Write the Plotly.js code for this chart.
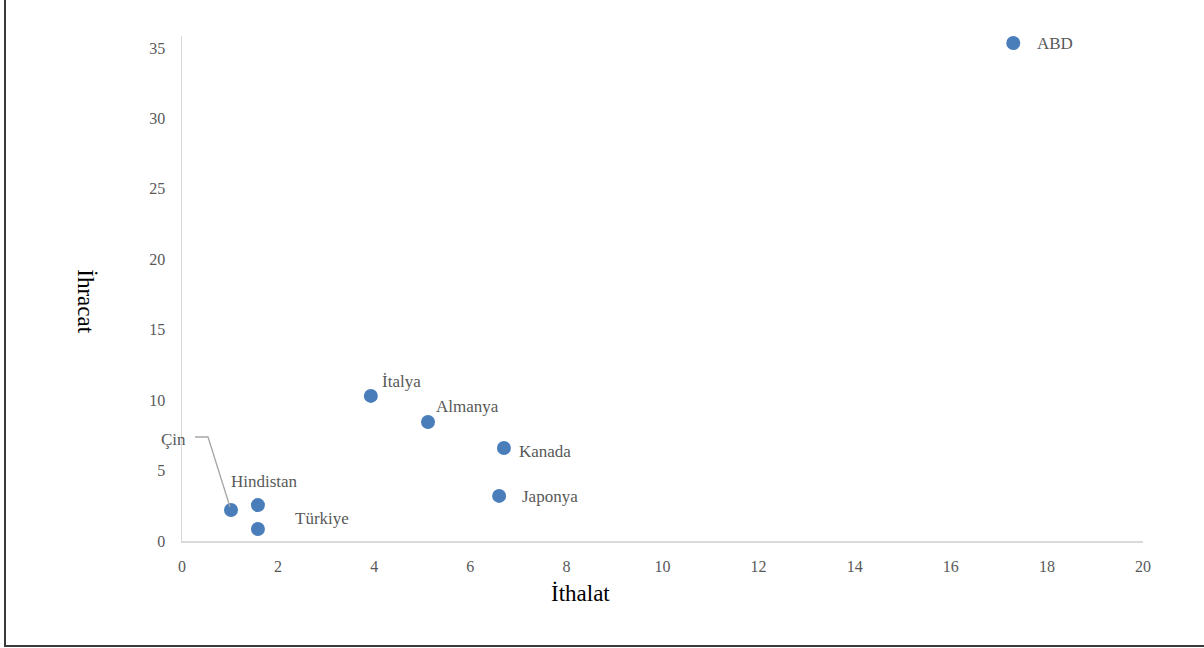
<!DOCTYPE html>
<html>
<head>
<meta charset="utf-8">
<script src="https://cdn.plot.ly/plotly-3.0.1.min.js"></script>
<style>
  html, body { margin: 0; padding: 0; background: #fff; }
  #frame { position: absolute; left: 4px; top: 0; width: 1200px; height: 647px;
           border-left: 2px solid #3a3a3a; border-bottom: 2px solid #3a3a3a; box-sizing: border-box; }
  #chart { position: absolute; left: 0; top: 0; width: 1204px; height: 648px; }
</style>
</head>
<body>
<div id="frame"></div>
<div id="chart"></div>
<script>
// Data
const countries = ["ABD", "İtalya", "Almanya", "Kanada", "Japonya", "Hindistan", "Türkiye", "Çin"];
const ithalat   = [17.3, 3.93, 5.12, 6.70, 6.60, 1.58, 1.58, 1.02];
const ihracat   = [35.35, 10.3, 8.45, 6.6, 3.2, 2.55, 0.85, 2.2];
const xTicks    = [0, 2, 4, 6, 8, 10, 12, 14, 16, 18, 20];
const yTicks    = [0, 5, 10, 15, 20, 25, 30, 35];

// Label placement (pixel offsets from each point)
const labelStyle = {
  "ABD":       {xanchor: "left",  xshift: 22,  yshift: 0},
  "İtalya":    {xanchor: "left",  xshift: 9,   yshift: 14},
  "Almanya":   {xanchor: "left",  xshift: 6,   yshift: 15},
  "Kanada":    {xanchor: "left",  xshift: 13,  yshift: -3},
  "Japonya":   {xanchor: "left",  xshift: 21,  yshift: -1},
  "Hindistan": {xanchor: "left",  xshift: -29, yshift: 24},
  "Türkiye":   {xanchor: "left",  xshift: 35,  yshift: 11},
  "Çin":       {xanchor: "right", xshift: -43, yshift: 71}
};

const serif = "'Liberation Serif', 'Times New Roman', serif";
const grey = "#595959";

const annotations = countries.map((c, i) => ({
  x: ithalat[i], y: ihracat[i], xref: "x", yref: "y",
  text: c, showarrow: false,
  xanchor: labelStyle[c].xanchor, yanchor: "middle",
  xshift: labelStyle[c].xshift, yshift: labelStyle[c].yshift,
  font: {family: serif, size: 17, color: grey}
}));

annotations.push({
  xref: "paper", yref: "paper", x: 0.415, y: -0.103, text: "İthalat",
  showarrow: false, xanchor: "center", yanchor: "middle",
  font: {family: serif, size: 23, color: "#000"}
});
annotations.push({
  xref: "paper", yref: "paper", x: -0.1, y: 0.475, text: "İhracat",
  showarrow: false, textangle: 90, xanchor: "center", yanchor: "middle",
  font: {family: serif, size: 23, color: "#000"}
});

const cinIdx = countries.indexOf("Çin");
const shapes = [{
  type: "path", xref: "x", yref: "y",
  xsizemode: "pixel", ysizemode: "pixel",
  xanchor: ithalat[cinIdx], yanchor: ihracat[cinIdx],
  path: "M -1,3 L -23,73 L -36,73",
  line: {color: "#a6a6a6", width: 1.3}
}];

const trace = {
  x: ithalat, y: ihracat, text: countries,
  type: "scatter", mode: "markers",
  marker: {color: "#4a7ebb", size: 14, line: {color: "#4a7ebb", width: 0}},
  hoverinfo: "text+x+y", cliponaxis: false
};

const layout = {
  width: 1204, height: 648,
  paper_bgcolor: "rgba(0,0,0,0)", plot_bgcolor: "rgba(0,0,0,0)",
  margin: {l: 182, r: 61, t: 36, b: 107},
  showlegend: false,
  xaxis: {
    range: [0, 20], tickvals: xTicks, ticktext: xTicks.map(String),
    showgrid: false, zeroline: false, showline: true,
    linecolor: "#d9d9d9", linewidth: 1.5, ticks: "",
    ticklabelstandoff: 10,
    tickfont: {family: serif, size: 16, color: grey}
  },
  yaxis: {
    range: [0, 35.85], tickvals: yTicks, ticktext: yTicks.map(String),
    showgrid: false, zeroline: false, showline: true,
    linecolor: "#d9d9d9", linewidth: 1.5, ticks: "",
    ticklabelstandoff: 12,
    tickfont: {family: serif, size: 16, color: grey}
  },
  annotations: annotations,
  shapes: shapes
};

Plotly.newPlot("chart", [trace], layout, {displayModeBar: false, staticPlot: true});
</script>
</body>
</html>
